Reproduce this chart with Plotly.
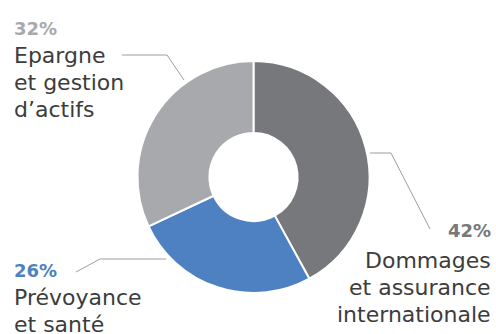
import plotly.graph_objects as go

W, H = 496, 334

categories = ["Dommages et assurance internationale", "Prévoyance et santé", "Epargne et gestion d'actifs"]
values = [42, 26, 32]
colors = ["#77787b", "#4e81c1", "#a7a9ac"]
pct_labels = ["42%", "26%", "32%"]
name_lines = [["Dommages", "et assurance", "internationale"],
              ["Prévoyance", "et santé"],
              ["Epargne", "et gestion", "d\u2019actifs"]]

CX, CY, R = 253.5, 177, 116

def px(x):
    return x / W

def py(y):
    return 1 - y / H

fig = go.Figure()
fig.add_trace(go.Pie(
    labels=categories, values=values, sort=False, direction="clockwise", rotation=0,
    hole=0.38, marker=dict(colors=colors, line=dict(color="white", width=2)),
    textinfo="none", hoverinfo="label+percent", showlegend=False,
    domain=dict(x=[px(CX - R), px(CX + R)], y=[py(CY + R), py(CY - R)]),
))

FONT = "DejaVu Sans"
TXT = "#3c3c3c"
anns = []
# label blocks: (index, x, anchor, pct_y, first_line_y)
blocks = [
    (0, 493, "right", 231, 260),
    (1, 12, "left", 270, 297),
    (2, 12, "left", 28, 55),
]
for i, x, anchor, yp, y0 in blocks:
    anns.append(dict(x=px(x), y=py(yp), xref="paper", yref="paper", xanchor=anchor, yanchor="middle",
                     text="<b>%s</b>" % pct_labels[i], showarrow=False,
                     font=dict(family=FONT, size=18, color=colors[i])))
    for k, line in enumerate(name_lines[i]):
        anns.append(dict(x=px(x), y=py(y0 + 27 * k), xref="paper", yref="paper", xanchor=anchor,
                         yanchor="middle", text=line, showarrow=False,
                         font=dict(family=FONT, size=22, color=TXT)))

leaders = [
    [(370, 153), (391, 153), (430, 229)],
    [(76, 272), (100, 259), (166, 259)],
    [(122, 55), (167, 55), (184, 80)],
]
shapes = []
for pts in leaders:
    for (x0, y0), (x1, y1) in zip(pts[:-1], pts[1:]):
        shapes.append(dict(type="line", xref="paper", yref="paper", x0=px(x0), y0=py(y0),
                           x1=px(x1), y1=py(y1), line=dict(color="#9a9ea2", width=1)))

fig.update_layout(width=W, height=H, margin=dict(l=0, r=0, t=0, b=0),
                  paper_bgcolor="white", plot_bgcolor="white",
                  annotations=anns, shapes=shapes)
fig.write_html("out.html")
